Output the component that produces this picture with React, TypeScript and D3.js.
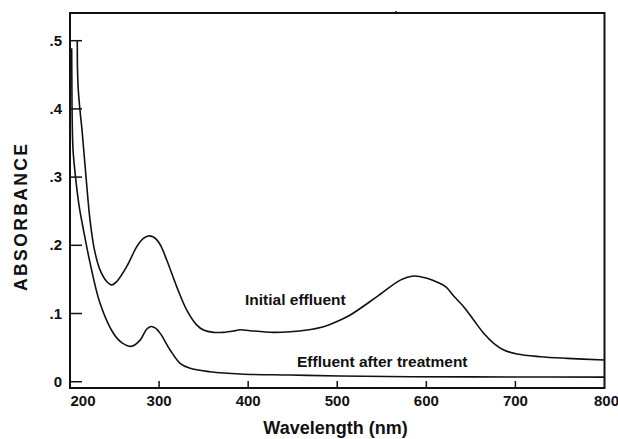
import React from "react";
import * as d3 from "d3";

// UV-Vis spectra: wavelength (nm) and absorbance for each sample
const initialNm = [
  208.2, 208.4, 209.2, 211.2, 213.5, 218.0, 222.5, 227.5,
  233.7, 241.2, 246.9, 252.5, 263.7, 275.0, 282.4, 288.0, 293.0, 297.5, 302.0, 308.7, 319.9, 331.1,
  342.4, 349.8, 361.0, 372.2, 383.5, 391.0, 402.2, 428.4, 447.2, 466.0, 484.6, 503.4, 514.6,
  544.6, 570.8, 585.7, 600.8, 613.0, 622.0, 630.7, 641.9, 653.1, 664.4, 675.6, 686.9, 701.9,
  728.0, 758.0, 800.0,
];
const initialAbs = [
  0.4995, 0.46, 0.43, 0.398, 0.369, 0.3, 0.237, 0.193,
  0.164, 0.147, 0.142, 0.147, 0.169, 0.198, 0.21, 0.2137, 0.2125, 0.208, 0.199, 0.178, 0.139, 0.105,
  0.083, 0.0758, 0.0724, 0.0724, 0.0743, 0.0762, 0.0748, 0.0724, 0.0733, 0.0758, 0.0806, 0.0905, 0.0978,
  0.1247, 0.149, 0.155, 0.1516, 0.1455, 0.139, 0.1256, 0.11, 0.0905, 0.071, 0.0563, 0.0465, 0.0406,
  0.0367, 0.0343, 0.0318,
];

const treatedNm = [
  201.9, 202.1, 202.4, 203.4, 206.2, 210.1, 215.2, 221.9, 233.7, 248.7,
  258.4, 269.3, 278.7, 286.0, 291.0, 296.0, 301.5, 312.4, 323.6, 334.8, 357.3, 391.0, 447.2, 503.4,
  582.0, 700.0, 800.0,
];
const treatedAbs = [
  0.489, 0.44, 0.39, 0.34, 0.3, 0.259, 0.222, 0.178, 0.115, 0.071,
  0.057, 0.052, 0.061, 0.077, 0.081, 0.0785, 0.0705, 0.0465, 0.027, 0.0196, 0.0147, 0.0113, 0.0098, 0.0084,
  0.0073, 0.007, 0.0068,
];

const xTicks = [200, 300, 400, 500, 600, 700, 800];
const yTicks = [0, 0.1, 0.2, 0.3, 0.4, 0.5];
const yTickLabels = ["0", ".1", ".2", ".3", ".4", ".5"];

const W = 618;
const H = 439;
const left = 70;
const right = 604.5;
const top = 13;
const bottom = 388;
const FONT = "'Liberation Sans', Arial, Helvetica, sans-serif";

export default function App() {
  const x = d3.scaleLinear().domain([200, 800]).range([left, right]);
  const y = d3.scaleLinear().domain([-0.0092, 0.5406]).range([bottom, top]);

  const line = d3
    .line<[number, number]>()
    .x((d) => x(d[0]))
    .y((d) => y(d[1]))
    .curve(d3.curveCatmullRom.alpha(0.5));

  const initial = initialNm.map((n, i) => [n, initialAbs[i]] as [number, number]);
  const treated = treatedNm.map((n, i) => [n, treatedAbs[i]] as [number, number]);

  const xLabelPos = (t: number) => (t === 200 ? x(t) + 13 : t === 800 ? x(t) + 2 : x(t));

  return (
    <svg
      width={W}
      height={H}
      style={{ position: "absolute", left: 0, top: 0, background: "#fff" }}
      fontFamily={FONT}
    >
      {/* frame */}
      <rect x={left} y={top} width={right - left} height={bottom - top} fill="none" stroke="#111" strokeWidth={2} />
      <line x1={396} x2={396} y1={top - 2} y2={top} stroke="#111" strokeWidth={1.5} />

      {/* y ticks */}
      {yTicks.map((t, i) => (
        <g key={"y" + t}>
          <line x1={left} x2={left + 12} y1={y(t)} y2={y(t)} stroke="#111" strokeWidth={1.5} />
          <text x={62} y={y(t) + 5} textAnchor="end" fontSize={15} fontWeight="bold" fill="#111">
            {yTickLabels[i]}
          </text>
        </g>
      ))}

      {/* x ticks */}
      {xTicks.map((t) => (
        <g key={"x" + t}>
          {t > 200 && t < 800 && (
            <line x1={x(t)} x2={x(t)} y1={bottom} y2={bottom - 7} stroke="#111" strokeWidth={1.5} />
          )}
          <text x={xLabelPos(t)} y={406} textAnchor="middle" fontSize={15} fontWeight="bold" fill="#111">
            {t}
          </text>
        </g>
      ))}

      {/* spectra */}
      <path d={line(initial) || ""} fill="none" stroke="#111" strokeWidth={1.6} strokeLinejoin="round" />
      <path d={line(treated) || ""} fill="none" stroke="#111" strokeWidth={1.6} strokeLinejoin="round" />

      {/* curve labels */}
      <text x={245} y={305} fontSize={15.5} fontWeight="bold" fill="#111">
        Initial effluent
      </text>
      <text x={297} y={367} fontSize={15.5} fontWeight="bold" fill="#111">
        Effluent after treatment
      </text>

      {/* axis titles */}
      <text x={335.5} y={434} textAnchor="middle" fontSize={18} fontWeight="bold" fill="#111">
        Wavelength (nm)
      </text>
      <text
        transform={`translate(27,217.5) rotate(-90)`}
        textAnchor="middle"
        fontSize={17.5}
        fontWeight="bold"
        fill="#111"
        textLength={147}
        lengthAdjust="spacing"
      >
        ABSORBANCE
      </text>
    </svg>
  );
}
